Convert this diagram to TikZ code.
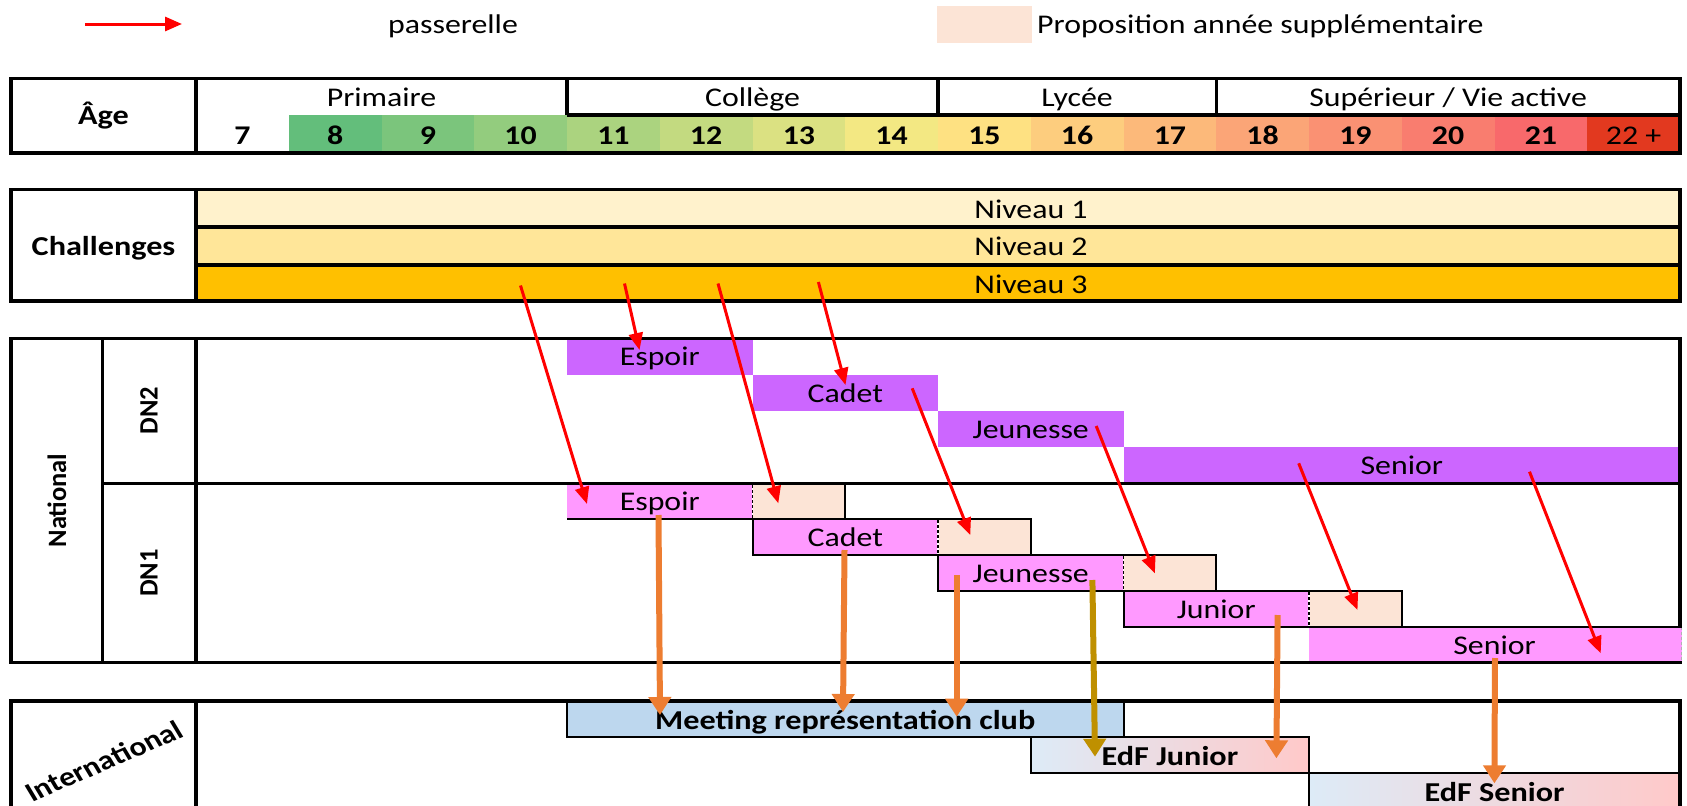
\documentclass[tikz,border=0pt]{standalone}
\usepackage{fontspec}
\setmainfont{Carlito}
\usetikzlibrary{arrows.meta}
\definecolor{c8}{HTML}{63BE7B}
\definecolor{c9}{HTML}{7BC57C}
\definecolor{c10}{HTML}{93CC7E}
\definecolor{c11}{HTML}{ABD37F}
\definecolor{c12}{HTML}{C3DA80}
\definecolor{c13}{HTML}{DBE182}
\definecolor{c14}{HTML}{F3E883}
\definecolor{c15}{HTML}{FEE182}
\definecolor{c16}{HTML}{FDCD7E}
\definecolor{c17}{HTML}{FCB97A}
\definecolor{c18}{HTML}{FBA577}
\definecolor{c19}{HTML}{FA9173}
\definecolor{c20}{HTML}{F97D6F}
\definecolor{c21}{HTML}{F8696B}
\definecolor{c22}{HTML}{E2391F}
\definecolor{niv1}{HTML}{FFF2CC}
\definecolor{niv2}{HTML}{FFE699}
\definecolor{niv3}{HTML}{FFC000}
\definecolor{dntwo}{HTML}{CC66FF}
\definecolor{dnone}{HTML}{FF99FF}
\definecolor{extc}{HTML}{FCE4D6}
\definecolor{meetc}{HTML}{BDD7EE}
\definecolor{edfL}{HTML}{DDEBF7}
\definecolor{edfR}{HTML}{FFC9C9}
\definecolor{orA}{HTML}{ED7D31}
\definecolor{olA}{HTML}{BF9000}
\begin{document}
\begin{tikzpicture}[x=1pt,y=-1pt,
  tline/.style={line width=3.3pt},
  bline/.style={line width=2pt},
  txt/.style={inner sep=0pt, anchor=base, xscale=1.18, font=\fontsize{27}{31}\selectfont},
  btxt/.style={inner sep=0pt, anchor=base, xscale=1.18, font=\fontsize{27.3}{31}\selectfont\bfseries},
  vtxt/.style={inner sep=0pt, anchor=center, rotate=90, font=\fontsize{26.5}{30}\selectfont\bfseries},
  numtxt/.style={inner sep=0pt, anchor=base, xscale=1.18, font=\fontsize{27}{31}\selectfont\bfseries},
  hdtxt/.style={inner sep=0pt, anchor=base, xscale=1.18, font=\fontsize{27}{31}\selectfont},
  redarr/.style={draw=red, line width=3pt, -{Triangle[length=17pt,width=14pt]}},
  orarr/.style={draw=orA, line width=6pt, -{Triangle[length=18pt,width=22pt]}},
  olarr/.style={draw=olA, line width=6pt, -{Triangle[length=18pt,width=22pt]}},
  divline/.style={line width=1.2pt, dash pattern=on 3pt off 2pt}
]
\useasboundingbox (0,0) rectangle (1687,806);
\clip (0,0) rectangle (1687,806);
\fill[white] (0,0) rectangle (1687,806);

% ---------- legend ----------
\coordinate (lgA) at (85,24);
\coordinate (lgB) at (182,24);
\draw[redarr] (lgA) -- (lgB);
\node[txt] (lgpas) at (453,33) {passerelle};
\fill[extc] (937,6) rectangle (1032,43);
\node[txt, anchor=base west] (lgprop) at (1037,33) {Proposition année supplémentaire};

% ---------- age table ----------
\fill[c8]  (288.75,115) rectangle (381.5,153);
\fill[c9]  (381.5,115) rectangle (474.25,153);
\fill[c10] (474.25,115) rectangle (567,153);
\fill[c11] (567,115) rectangle (659.75,153);
\fill[c12] (659.75,115) rectangle (752.5,153);
\fill[c13] (752.5,115) rectangle (845.25,153);
\fill[c14] (845.25,115) rectangle (938,153);
\fill[c15] (938,115) rectangle (1030.75,153);
\fill[c16] (1030.75,115) rectangle (1123.5,153);
\fill[c17] (1123.5,115) rectangle (1216.25,153);
\fill[c18] (1216.25,115) rectangle (1309,153);
\fill[c19] (1309,115) rectangle (1401.75,153);
\fill[c20] (1401.75,115) rectangle (1494.5,153);
\fill[c21] (1494.5,115) rectangle (1587.25,153);
\fill[c22] (1587.25,115) rectangle (1680,153);
\draw[tline] (11,78.5) rectangle (1680,153);
\draw[tline] (196,78.5) -- (196,153);
\draw[tline] (567,115) -- (1680,115);
\draw[tline] (567,78.5) -- (567,115);
\draw[tline] (938,78.5) -- (938,115);
\draw[tline] (1216.25,78.5) -- (1216.25,115);
\node[btxt] (age) at (103.5,124) {Âge};
\node[hdtxt] (hprim) at (381.5,106) {Primaire};
\node[hdtxt] (hcol) at (752.5,106) {Collège};
\node[hdtxt] (hlyc) at (1077.1,106) {Lycée};
\node[hdtxt] (hsup) at (1448.1,106) {Supérieur / Vie active};
\node[numtxt] (n7) at (242.4,144) {7};
\node[numtxt] (n8) at (335.1,144) {8};
\node[numtxt] (n9) at (427.9,144) {9};
\node[numtxt] (n10) at (520.6,144) {10};
\node[numtxt] (n11) at (613.4,144) {11};
\node[numtxt] (n12) at (706.1,144) {12};
\node[numtxt] (n13) at (798.9,144) {13};
\node[numtxt] (n14) at (891.6,144) {14};
\node[numtxt] (n15) at (984.4,144) {15};
\node[numtxt] (n16) at (1077.1,144) {16};
\node[numtxt] (n17) at (1169.9,144) {17};
\node[numtxt] (n18) at (1262.6,144) {18};
\node[numtxt] (n19) at (1355.4,144) {19};
\node[numtxt] (n20) at (1448.1,144) {20};
\node[numtxt] (n21) at (1540.9,144) {21};
\node[hdtxt] (n22) at (1633.6,144) {22 +};

% ---------- challenges ----------
\fill[niv1] (196,189.5) rectangle (1680,227);
\fill[niv2] (196,227) rectangle (1680,265);
\fill[niv3] (196,265) rectangle (1680,301);
\draw[tline] (11,189.5) rectangle (1680,301);
\draw[tline] (196,189.5) -- (196,301);
\draw[tline] (196,227) -- (1680,227);
\draw[tline] (196,265) -- (1680,265);
\node[btxt] (chal) at (103.5,255) {Challenges};
\node[txt] (niv1t) at (1031,218.5) {Niveau 1};
\node[txt] (niv2t) at (1031,255.5) {Niveau 2};
\node[txt] (niv3t) at (1031,293) {Niveau 3};

% ---------- national ----------
% DN2
\fill[dntwo] (567,338.3) rectangle (752.5,374.6);
\fill[dntwo] (752.5,374.6) rectangle (938,410.8);
\fill[dntwo] (938,410.8) rectangle (1123.5,447.1);
\fill[dntwo] (1123.5,447.1) rectangle (1680,483.3);
% DN1
\fill[dnone] (567,483.3) rectangle (752.5,519.2);
\fill[extc] (752.5,483.3) rectangle (845.25,519.2);
\fill[dnone] (752.5,519.2) rectangle (938,555.1);
\fill[extc] (938,519.2) rectangle (1030.75,555.1);
\fill[dnone] (938,555.1) rectangle (1123.5,591);
\fill[extc] (1123.5,555.1) rectangle (1216.25,591);
\fill[dnone] (1123.5,591) rectangle (1309,626.8);
\fill[extc] (1309,591) rectangle (1401.75,626.8);

\draw[tline] (11,338.3) rectangle (1680,662.7);
\draw[tline] (102.7,338.3) -- (102.7,662.7);
\draw[tline] (196,338.3) -- (196,662.7);
\draw[tline] (102.7,483.3) -- (1680,483.3);

\fill[dnone] (1309,626.8) rectangle (1681.7,661);
\draw[gray!60, line width=1pt, dash pattern=on 3pt off 2pt] (1681,627) -- (1681,661);

\draw[bline] (567,519.2) -- (845.25,519.2) -- (845.25,483.3);
\draw[bline] (752.5,519.2) rectangle (1030.75,555.1);
\draw[bline] (938,555.1) rectangle (1216.25,591);
\draw[bline] (1123.5,591) rectangle (1401.75,626.8);
\draw[bline] (1309,626.8) -- (1681.7,626.8);
\draw[white, line width=1.2pt] (752.5,485) -- (752.5,518.2) (938,520.2) -- (938,554.1) (1123.5,556.1) -- (1123.5,590) (1309,592) -- (1309,625.8);
\draw[divline] (752.5,485) -- (752.5,518.2) (938,520.2) -- (938,554.1) (1123.5,556.1) -- (1123.5,590) (1309,592) -- (1309,625.8);

\node[vtxt] (nat) at (56.9,500.5) {National};
\node[vtxt] (dn2) at (148.9,410.8) {DN2};
\node[vtxt] (dn1) at (148.9,573) {DN1};

\node[txt] (esp2) at (659.75,365.9) {Espoir};
\node[txt] (cad2) at (845.25,402.1) {Cadet};
\node[txt] (jeu2) at (1030.75,438.4) {Jeunesse};
\node[txt] (sen2) at (1401.75,474.6) {Senior};
\node[txt] (esp1) at (659.75,510.5) {Espoir};
\node[txt] (cad1) at (845.25,546.4) {Cadet};
\node[txt] (jeu1) at (1030.75,582.3) {Jeunesse};
\node[txt] (jun1) at (1216.25,618.1) {Junior};
\node[txt] (sen1) at (1494.5,654) {Senior};

% ---------- international ----------
\fill[meetc] (567,701) rectangle (1123.5,737);
\shade[left color=edfL, right color=edfR] (1030.75,737) rectangle (1309,773);
\shade[left color=edfL, right color=edfR] (1309,773) rectangle (1680,809);
\draw[tline] (11,701) rectangle (1680,815);
\draw[tline] (196,701) -- (196,815);
\draw[bline] (567,701) rectangle (1123.5,737);
\draw[bline] (1030.75,737) rectangle (1309,773);
\draw[bline] (1309,773) rectangle (1680,812);
\node[inner sep=0pt, anchor=center, xscale=1.18, rotate=27, font=\fontsize{27}{31}\selectfont\bfseries] (intl) at (104,761) {International};
\node[btxt] (meet) at (845.25,729) {Meeting représentation club};
\node[btxt] (edfj) at (1169.9,765) {EdF Junior};
\node[btxt] (edfs) at (1494.5,801) {EdF Senior};

% ---------- passerelles ----------
\coordinate (r1s) at (520.5,285.5); \coordinate (r1e) at (587,504);
\coordinate (r2s) at (624.5,283.5); \coordinate (r2e) at (639.5,350);
\coordinate (r3s) at (718,283.5);   \coordinate (r3e) at (778.3,503.3);
\coordinate (r4s) at (818.4,282);   \coordinate (r4e) at (845.5,385);
\coordinate (r5s) at (912.2,388.3); \coordinate (r5e) at (970.3,535);
\coordinate (r6s) at (1096.2,426);  \coordinate (r6e) at (1154.9,573.3);
\coordinate (r7s) at (1298.7,463.3);\coordinate (r7e) at (1357.5,610);
\coordinate (r8s) at (1529.5,471.7);\coordinate (r8e) at (1600.7,653.3);
\foreach \i in {1,...,8} {\draw[redarr] (r\i s) -- (r\i e);}

\coordinate (o1s) at (658.5,515);  \coordinate (o1e) at (660,715);
\coordinate (o2s) at (844.5,550);  \coordinate (o2e) at (843,712);
\coordinate (o3s) at (956.7,575);  \coordinate (o3e) at (956.7,716.7);
\coordinate (o4s) at (1092.4,580); \coordinate (o4e) at (1095,756.7);
\coordinate (o5s) at (1277.6,615); \coordinate (o5e) at (1276.4,758.3);
\coordinate (o6s) at (1495,658);   \coordinate (o6e) at (1494.4,783.3);
\draw[orarr] (o1s) -- (o1e);
\draw[orarr] (o2s) -- (o2e);
\draw[orarr] (o3s) -- (o3e);
\draw[olarr] (o4s) -- (o4e);
\draw[orarr] (o5s) -- (o5e);
\draw[orarr] (o6s) -- (o6e);
\end{tikzpicture}
\end{document}
